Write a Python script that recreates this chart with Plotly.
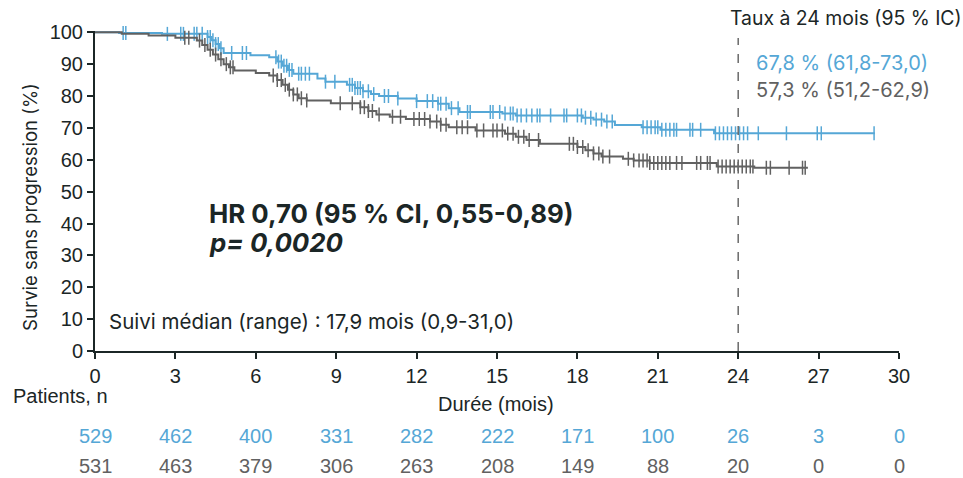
import plotly.graph_objects as go

# ---------------- data ----------------
blue_t = [0, 0.9, 2.5, 4.2, 4.35, 4.5, 4.65, 4.8, 5.8, 6.5, 6.8, 7.0, 7.2, 7.4, 8.3, 8.6, 9.4, 9.7, 10.0,
          10.3, 10.6, 11.3, 12.0, 12.8, 13.2, 13.6, 15.2, 15.7, 18.2, 18.6, 19.0, 19.4, 20.4, 21.1, 23.1, 29.1]
blue_s = [100, 99.8, 99.5, 98.5, 97.5, 96.3, 95.0, 93.5, 92.8, 92.2, 90.8, 89.5, 88.2, 87.0, 85.5, 84.5, 83.5, 82.5, 81.5,
          80.6, 80.0, 79.2, 78.4, 77.6, 76.2, 75.0, 74.5, 73.9, 73.2, 72.6, 72.0, 70.9, 70.2, 69.4, 68.3, 68.3]
blue_cens = [1.05, 1.15, 2.7, 3.2, 3.3, 3.7, 3.8, 4.0, 4.2, 4.3, 4.4, 4.5, 4.6, 4.7, 5.1, 5.5, 5.65,
             6.75, 6.85, 6.95, 7.05, 7.15, 7.25, 7.35, 7.6, 7.7, 7.85, 8.0, 8.6, 8.95,
             9.5, 9.6, 9.7, 9.8, 9.9, 10.0, 10.2, 10.4, 10.8, 10.95, 11.3, 12.0, 12.4, 12.6, 12.8,
             12.9, 13.1, 13.3, 13.55, 13.9, 14.0, 14.75, 14.85, 15.1, 15.3, 15.5, 15.6, 15.75, 15.9,
             16.1, 16.3, 16.5, 16.6, 17.0, 17.5, 17.6, 18.0, 18.15, 18.3, 18.5, 18.7, 18.9, 19.1,
             19.3, 20.45, 20.6, 20.75, 20.9, 21.0, 21.15, 21.3, 21.45, 21.6, 21.7, 22.2, 22.3, 22.6,
             23.15, 23.3, 23.45, 23.6, 23.75, 23.9, 24.05, 24.2, 24.35, 24.75, 25.8, 26.95, 27.1, 29.07]

gray_t = [0, 1.0, 2.0, 3.0, 3.8, 4.0, 4.2, 4.4, 4.6, 4.8, 5.0, 5.2, 6.0, 6.5, 6.8, 7.0, 7.2, 7.4, 7.6, 7.9,
          8.8, 9.9, 10.2, 10.5, 11.0, 11.6, 12.5, 12.9, 13.2, 14.2, 15.3, 15.7, 16.1, 16.6, 18.0, 18.3,
          18.6, 18.9, 19.7, 20.1, 20.7, 23.2, 24.6, 26.6]
gray_s = [100, 99.5, 99.0, 98.3, 97.4, 96.0, 94.5, 93.0, 91.5, 90.0, 89.0, 88.0, 87.2, 86.4, 85.0, 83.5, 82.0, 80.5, 79.3, 78.6,
          77.7, 76.5, 75.3, 74.2, 73.5, 72.8, 72.0, 71.0, 70.2, 69.2, 68.2, 67.2, 66.2, 65.0, 64.0, 63.0,
          62.0, 61.0, 60.3, 59.8, 59.0, 57.9, 57.5, 57.5]
gray_cens = [3.35, 3.5, 3.9, 4.1, 4.3, 4.5, 4.7, 4.9, 5.05, 5.15,
             6.65, 6.8, 6.95, 7.1, 7.25, 7.4, 7.55, 7.7, 7.9, 9.15, 9.6, 9.9, 10.05, 10.2, 10.35, 10.6,
             11.1, 11.4, 11.9, 12.1, 12.3, 12.5, 12.75, 12.9, 13.1, 13.5, 13.7, 13.9, 14.25, 14.5, 14.85, 15.0,
             15.2, 15.4, 15.6, 15.8, 16.0, 16.2, 16.55, 17.7, 17.85, 18.0, 18.2, 18.4, 18.6, 18.8, 18.95,
             19.2, 19.9, 20.1, 20.3, 20.45, 20.6, 20.7, 20.85, 21.0, 21.15, 21.3, 21.45, 21.7, 21.9,
             22.45, 22.6, 22.85, 22.95, 23.25, 23.4, 23.55, 23.7, 23.85, 24.0, 24.15, 24.3, 24.45, 24.55,
             25.05, 25.2, 25.9, 26.4, 26.5]

risk_times = [0, 3, 6, 9, 12, 15, 18, 21, 24, 27, 30]
risk_blue = [529, 462, 400, 331, 282, 222, 171, 100, 26, 3, 0]
risk_gray = [531, 463, 379, 306, 263, 208, 149, 88, 20, 0, 0]

x_ticks = [0, 3, 6, 9, 12, 15, 18, 21, 24, 27, 30]
y_ticks = [0, 10, 20, 30, 40, 50, 60, 70, 80, 90, 100]

BLUE = "#55a7d6"
GRAY = "#616161"
DARK = "#1b2626"
NARROW = "Liberation Sans, Arial, sans-serif"
SANS = "Inter, Lato, sans-serif"


def surv_at(ts, ss, t):
    val = ss[0]
    for ti, si in zip(ts, ss):
        if ti <= t:
            val = si
        else:
            break
    return val


fig = go.Figure()
for ts, ss, cens, col in [(blue_t, blue_s, blue_cens, BLUE), (gray_t, gray_s, gray_cens, GRAY)]:
    fig.add_trace(go.Scatter(x=ts, y=ss, mode="lines", line=dict(color=col, width=2, shape="hv"),
                             hoverinfo="skip", showlegend=False))
    fig.add_trace(go.Scatter(x=cens, y=[surv_at(ts, ss, c) for c in cens], mode="markers",
                             marker=dict(symbol="line-ns-open", size=10, color=col,
                                         line=dict(color=col, width=1.5)),
                             cliponaxis=False, showlegend=False))

# 24-month dashed reference line
fig.add_shape(type="line", x0=24, x1=24, y0=0, y1=98.2, xref="x", yref="y",
              line=dict(color="#6a6a6a", width=1.5, dash="dash"))

ann = []
ann.append(dict(text="Taux à 24 mois (95 % IC)", x=24 - 0.37, y=1.042, xref="x", yref="paper",
                xanchor="left", yanchor="middle", showarrow=False, font=dict(family=SANS, size=19.4, color=DARK)))
ann.append(dict(text="67,8 % (61,8-73,0)", x=24.6, y=90.3, xref="x", yref="y",
                xanchor="left", yanchor="middle", showarrow=False, font=dict(family=SANS, size=20, color=BLUE)))
ann.append(dict(text="57,3 % (51,2-62,9)", x=24.6, y=81.8, xref="x", yref="y",
                xanchor="left", yanchor="middle", showarrow=False, font=dict(family=SANS, size=20, color=GRAY)))
ann.append(dict(text="<b>HR 0,70 (95 % CI, 0,55-0,89)</b>", x=4.17, y=43, xref="x", yref="y",
                xanchor="left", yanchor="middle", showarrow=False, font=dict(family=SANS, size=25.8, color=DARK)))
ann.append(dict(text="<b><i>p= 0,0020</i></b>", x=4.17, y=33.9, xref="x", yref="y",
                xanchor="left", yanchor="middle", showarrow=False, font=dict(family=SANS, size=25.8, color=DARK)))
ann.append(dict(text="Suivi médian (range) : 17,9 mois (0,9-31,0)", x=0.45, y=9.4, xref="x", yref="y",
                xanchor="left", yanchor="middle", showarrow=False, font=dict(family=SANS, size=20.5, color=DARK)))
ann.append(dict(text="Survie sans progression (%)", x=-0.081, y=0.45, xref="paper", yref="paper",
                xanchor="center", yanchor="middle", textangle=-90, showarrow=False,
                font=dict(family=SANS, size=18.5, color=DARK)))
ann.append(dict(text="Patients, n", x=-0.105, y=-0.14, xref="paper", yref="paper",
                xanchor="left", yanchor="middle", showarrow=False, font=dict(family=NARROW, size=20, color=DARK)))
ann.append(dict(text="Durée (mois)", x=0.499, y=-0.166, xref="paper", yref="paper",
                xanchor="center", yanchor="middle", showarrow=False, font=dict(family=NARROW, size=20, color=DARK)))
for t, nb, ng in zip(risk_times, risk_blue, risk_gray):
    ann.append(dict(text=str(nb), x=t, y=-0.266, xref="x", yref="paper", xanchor="center", yanchor="middle",
                    showarrow=False, font=dict(family=NARROW, size=20, color=BLUE)))
    ann.append(dict(text=str(ng), x=t, y=-0.36, xref="x", yref="paper", xanchor="center", yanchor="middle",
                    showarrow=False, font=dict(family=NARROW, size=20, color=GRAY)))

fig.update_layout(
    width=963, height=478,
    margin=dict(l=95, r=64, t=31, b=127),
    paper_bgcolor="white", plot_bgcolor="white",
    annotations=ann,
    xaxis=dict(range=[0, 30], tickvals=x_ticks, ticktext=[str(v) for v in x_ticks], showgrid=False,
               zeroline=False, showline=True, linecolor=DARK, linewidth=2, ticks="outside", ticklen=6,
               tickwidth=1.5, tickcolor=DARK, tickfont=dict(family=NARROW, size=20, color=DARK)),
    yaxis=dict(range=[0, 100.4], tickvals=y_ticks, ticktext=[str(v) for v in y_ticks], showgrid=False,
               zeroline=False, showline=True, linecolor=DARK, linewidth=2, ticks="outside", ticklen=6,
               tickwidth=1.5, tickcolor=DARK, tickfont=dict(family=NARROW, size=20, color=DARK)),
)

fig.write_html("out.html", config={"displayModeBar": False},
               post_script="document.body.style.margin='0';document.body.style.overflow='hidden';")
